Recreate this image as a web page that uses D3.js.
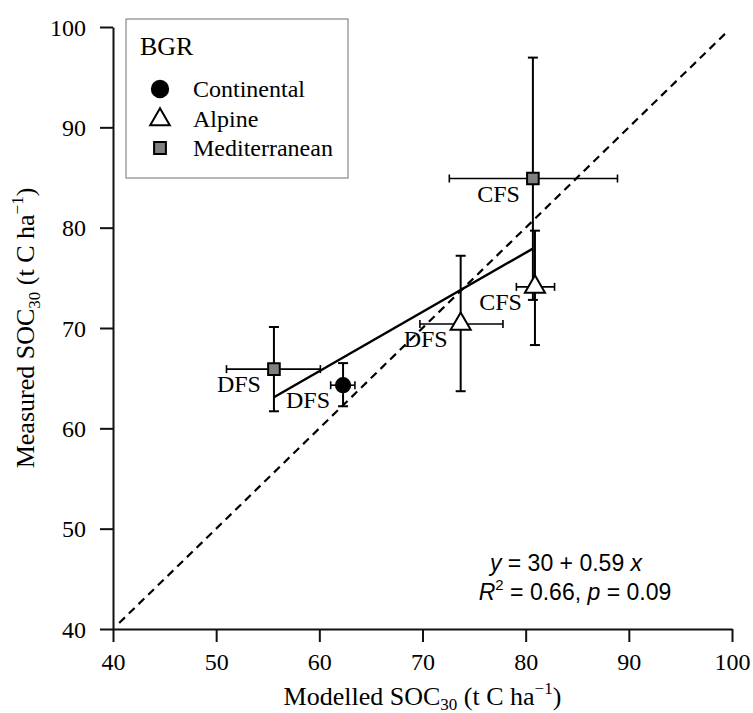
<!DOCTYPE html>
<html>
<head>
<meta charset="utf-8">
<script src="https://cdn.jsdelivr.net/npm/d3@7"></script>
<style>
  body { margin: 0; background: #fff; }
  text { font-family: "Liberation Serif", "Times New Roman", serif; fill: #000; }
  .stats text, .stats { font-family: "Liberation Sans", Arial, sans-serif; }
</style>
</head>
<body>
<div id="chart"></div>
<script>

// values
const groups = ["Continental", "Alpine", "Mediterranean"]
const siteBGR = ["Mediterranean", "Continental", "Alpine", "Alpine", "Mediterranean"]
const siteType = ["DFS", "DFS", "DFS", "CFS", "CFS"]
const modelled = [55.6, 62.3, 73.7, 80.9, 80.7]
const modelledLo = [51.0, 61.1, 69.75, 79.1, 72.6]
const modelledHi = [60.1, 63.45, 77.8, 82.8, 88.9]
const measured = [65.9, 64.3, 70.4, 74.1, 84.9]
const measuredLo = [61.7, 62.2, 63.7, 68.3, 72.8]
const measuredHi = [70.1, 66.5, 77.2, 79.7, 96.95]
const xTicks = [40, 50, 60, 70, 80, 90, 100]
const yTicks = [40, 50, 60, 70, 80, 90, 100]
const fitIntercept = 30.3
const fitSlope = 0.59
const fitX = [55.6, 80.7]
const oneToOne = [40.6, 99.7]

var width = 753, height = 713
var margin = {left: 113, right: 21, top: 27, bottom: 84}

var svg = d3.select("#chart").append("svg")
    .attr("width", width)
    .attr("height", height)

var x = d3.scaleLinear().domain([40, 100]).range([margin.left, width - margin.right])
var y = d3.scaleLinear().domain([40, 100]).range([height - margin.bottom, margin.top])

var data = modelled.map(function(d, i) {
    return {bgr: siteBGR[i], type: siteType[i], x: d, xlo: modelledLo[i], xhi: modelledHi[i],
            y: measured[i], ylo: measuredLo[i], yhi: measuredHi[i]}
})

// axes
var xAxis = svg.append("g")
    .attr("transform", "translate(0," + y(40) + ")")
    .call(d3.axisBottom(x).tickValues(xTicks).tickSize(13).tickSizeOuter(0).tickPadding(10))
var yAxis = svg.append("g")
    .attr("transform", "translate(" + x(40) + ",0)")
    .call(d3.axisLeft(y).tickValues(yTicks).tickSize(13).tickSizeOuter(0).tickPadding(14))

svg.selectAll(".domain, .tick line").attr("stroke", "#111").attr("stroke-width", 2)
svg.selectAll(".tick text")
    .attr("font-family", "Liberation Serif")
    .attr("font-size", 24)
    .attr("fill", "#000")
xAxis.selectAll(".tick text").attr("dy", "0.75em")
yAxis.selectAll(".tick text").attr("dy", "0.34em")

// axis titles
var xt = svg.append("text")
    .attr("x", (x(40) + x(100)) / 2)
    .attr("y", 705)
    .attr("text-anchor", "middle")
    .attr("font-size", 26)
xt.append("tspan").text("Modelled SOC")
xt.append("tspan").attr("font-size", 17).attr("dy", 5).text("30")
xt.append("tspan").attr("dy", -5).text(" (t C ha")
xt.append("tspan").attr("font-size", 17).attr("dy", -11).text("\u22121")
xt.append("tspan").attr("dy", 11).text(")")

var yt = svg.append("text")
    .attr("transform", "translate(34," + (y(40) + y(100)) / 2 + ") rotate(-90)")
    .attr("text-anchor", "middle")
    .attr("font-size", 26)
yt.append("tspan").text("Measured SOC")
yt.append("tspan").attr("font-size", 17).attr("dy", 6).text("30")
yt.append("tspan").attr("dy", -6).text(" (t C ha")
yt.append("tspan").attr("font-size", 17).attr("dy", -11).text("\u22121")
yt.append("tspan").attr("dy", 11).text(")")

// 1:1 line
svg.append("line")
    .attr("x1", x(oneToOne[0])).attr("y1", y(oneToOne[0]))
    .attr("x2", x(oneToOne[1])).attr("y2", y(oneToOne[1]))
    .attr("stroke", "#000")
    .attr("stroke-width", 2.2)
    .attr("stroke-dasharray", "8,5.5")

// regression line
svg.append("line")
    .attr("x1", x(fitX[0])).attr("y1", y(fitIntercept + fitSlope * fitX[0]))
    .attr("x2", x(fitX[1])).attr("y2", y(fitIntercept + fitSlope * fitX[1]))
    .attr("stroke", "#000")
    .attr("stroke-width", 2.4)

// error bars
var bars = svg.append("g").attr("stroke", "#000")
data.forEach(function(d) {
    // vertical
    bars.append("line").attr("x1", x(d.x)).attr("x2", x(d.x)).attr("y1", y(d.ylo)).attr("y2", y(d.yhi)).attr("stroke-width", 2)
    bars.append("line").attr("x1", x(d.x) - 5).attr("x2", x(d.x) + 5).attr("y1", y(d.ylo)).attr("y2", y(d.ylo)).attr("stroke-width", 2)
    bars.append("line").attr("x1", x(d.x) - 5).attr("x2", x(d.x) + 5).attr("y1", y(d.yhi)).attr("y2", y(d.yhi)).attr("stroke-width", 2)
    // horizontal
    bars.append("line").attr("x1", x(d.xlo)).attr("x2", x(d.xhi)).attr("y1", y(d.y)).attr("y2", y(d.y)).attr("stroke-width", 1.6)
    bars.append("line").attr("x1", x(d.xlo)).attr("x2", x(d.xlo)).attr("y1", y(d.y) - 4).attr("y2", y(d.y) + 4).attr("stroke-width", 1.6)
    bars.append("line").attr("x1", x(d.xhi)).attr("x2", x(d.xhi)).attr("y1", y(d.y) - 4).attr("y2", y(d.y) + 4).attr("stroke-width", 1.6)
})

// symbols
const shape = d3.scaleOrdinal().domain(groups).range([d3.symbolCircle, d3.symbolTriangle, d3.symbolSquare])
const fill = d3.scaleOrdinal().domain(groups).range(["#000", "#fff", "#808080"])
const size = d3.scaleOrdinal().domain(groups).range([160, 175, 135])

svg.append("g").selectAll("path")
    .data(data)
    .enter().append("path")
    .attr("transform", d => "translate(" + x(d.x) + "," + y(d.y) + ")")
    .attr("d", d => d3.symbol().type(shape(d.bgr)).size(size(d.bgr))())
    .attr("fill", d => fill(d.bgr))
    .attr("stroke", "#000")
    .attr("stroke-width", 2)

// site labels
svg.append("g").selectAll("text")
    .data(data)
    .enter().append("text")
    .attr("x", d => x(d.x) - 13)
    .attr("y", d => y(d.y) + 23)
    .attr("text-anchor", "end")
    .attr("font-size", 24)
    .text(d => d.type)

// legend
var legend = svg.append("g")
legend.append("rect")
    .attr("x", 126).attr("y", 19).attr("width", 222).attr("height", 159)
    .attr("fill", "#fff").attr("stroke", "#888").attr("stroke-width", 1.2)
legend.append("text").attr("x", 140).attr("y", 55).attr("font-size", 26).text("BGR")

var items = legend.selectAll(".item")
    .data(groups)
    .enter().append("g")
    .attr("class", "item")
    .attr("transform", (d, i) => "translate(0," + (i * 29.5) + ")")
items.append("path")
    .attr("transform", d => "translate(160," + (d == "Alpine" ? 90 : 89) + ")")
    .attr("d", d => d3.symbol().type(shape(d)).size(d == "Continental" ? 210 : (d == "Alpine" ? 165 : 140))())
    .attr("fill", d => fill(d))
    .attr("stroke", "#000")
    .attr("stroke-width", 2)
items.append("text")
    .attr("x", 193)
    .attr("y", 97)
    .attr("font-size", 24)
    .text(d => d)

// fit statistics
var stats = svg.append("g").attr("class", "stats").attr("font-size", 23)
var s1 = stats.append("text").attr("x", 566).attr("y", 571).attr("text-anchor", "middle")
s1.append("tspan").attr("font-style", "italic").text("y")
s1.append("tspan").text(" = 30 + 0.59 ")
s1.append("tspan").attr("font-style", "italic").text("x")
var s2 = stats.append("text").attr("x", 575).attr("y", 600).attr("text-anchor", "middle")
s2.append("tspan").attr("font-style", "italic").text("R")
s2.append("tspan").attr("font-size", 15).attr("dy", -10).text("2")
s2.append("tspan").attr("dy", 10).text(" = 0.66, ")
s2.append("tspan").attr("font-style", "italic").text("p")
s2.append("tspan").text(" = 0.09")

</script>
</body>
</html>
